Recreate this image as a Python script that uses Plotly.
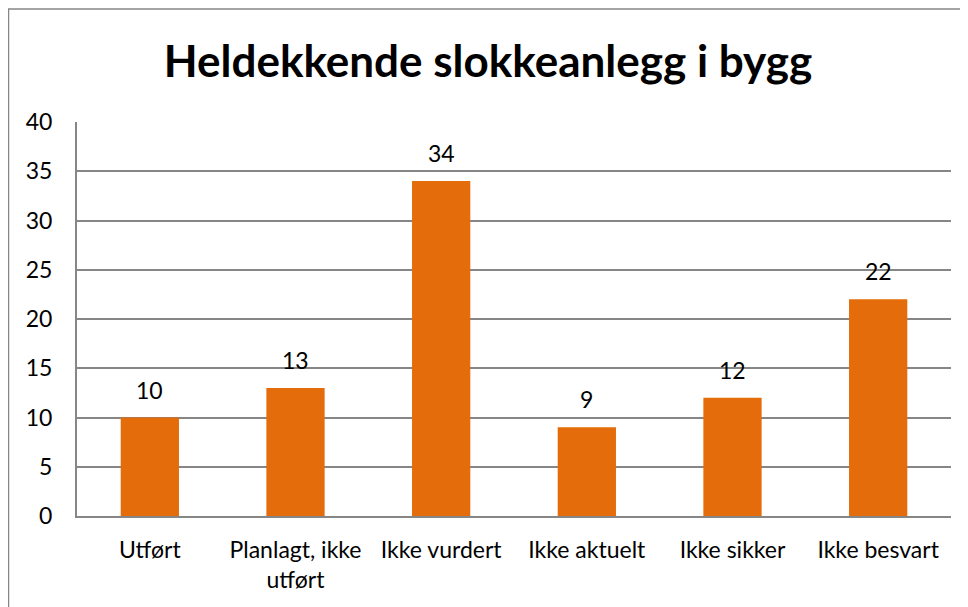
import plotly.graph_objects as go

categories = ["Utført", "Planlagt, ikke<br>utført", "Ikke vurdert", "Ikke aktuelt", "Ikke sikker", "Ikke besvart"]
values = [10, 13, 34, 9, 12, 22]
y_ticks = [0, 5, 10, 15, 20, 25, 30, 35, 40]

# page body has an 8px margin, so figure origin sits at (8, 8) in the window
OX, OY = 8, 8
W, H = 960, 599
L, R, T, B = 77 - OX, 951 - OX, 122 - OY, 516 - OY
pw, ph = R - L, B - T

fig = go.Figure(go.Bar(
    x=categories, y=values,
    marker=dict(color="#E46C0A", line=dict(width=0)),
    cliponaxis=False,
))

annotations = [dict(x=c, y=v, xref="x", yref="y", text=str(v), showarrow=False,
                    yanchor="bottom", yshift=12, font=dict(size=23, color="#000000"))
               for c, v in zip(categories, values)]

fig.update_layout(
    width=W, height=H,
    margin=dict(l=L, r=W - R, t=T, b=H - B, pad=0),
    paper_bgcolor="white", plot_bgcolor="white",
    font=dict(family="Lato, Carlito, sans-serif", size=23, color="#000000"),
    title=dict(text="<b>Heldekkende slokkeanlegg i bygg</b>", x=0.5, xanchor="center",
               y=1 - (62 - OY) / H, yanchor="middle", font=dict(size=44)),
    bargap=0.6,
    showlegend=False,
    annotations=annotations,
    xaxis=dict(showline=True, linecolor="#868686", linewidth=2, ticks="",
               ticklabelstandoff=12, tickfont=dict(size=23)),
    yaxis=dict(range=[0, 40], tickvals=y_ticks, showline=True, linecolor="#868686", linewidth=2,
               showgrid=True, gridcolor="#868686", gridwidth=1.5, ticks="",
               ticklabelstandoff=18, zeroline=False, tickfont=dict(size=23)),
    shapes=[dict(type="rect", xref="paper", yref="paper",
                 x0=(0.5 - L) / pw, x1=(990 - L) / pw,
                 y0=(B - 640) / ph, y1=(B - 1) / ph,
                 line=dict(color="#868686", width=1.5), fillcolor="rgba(0,0,0,0)", layer="below")],
)

fig.write_html("out.html")
